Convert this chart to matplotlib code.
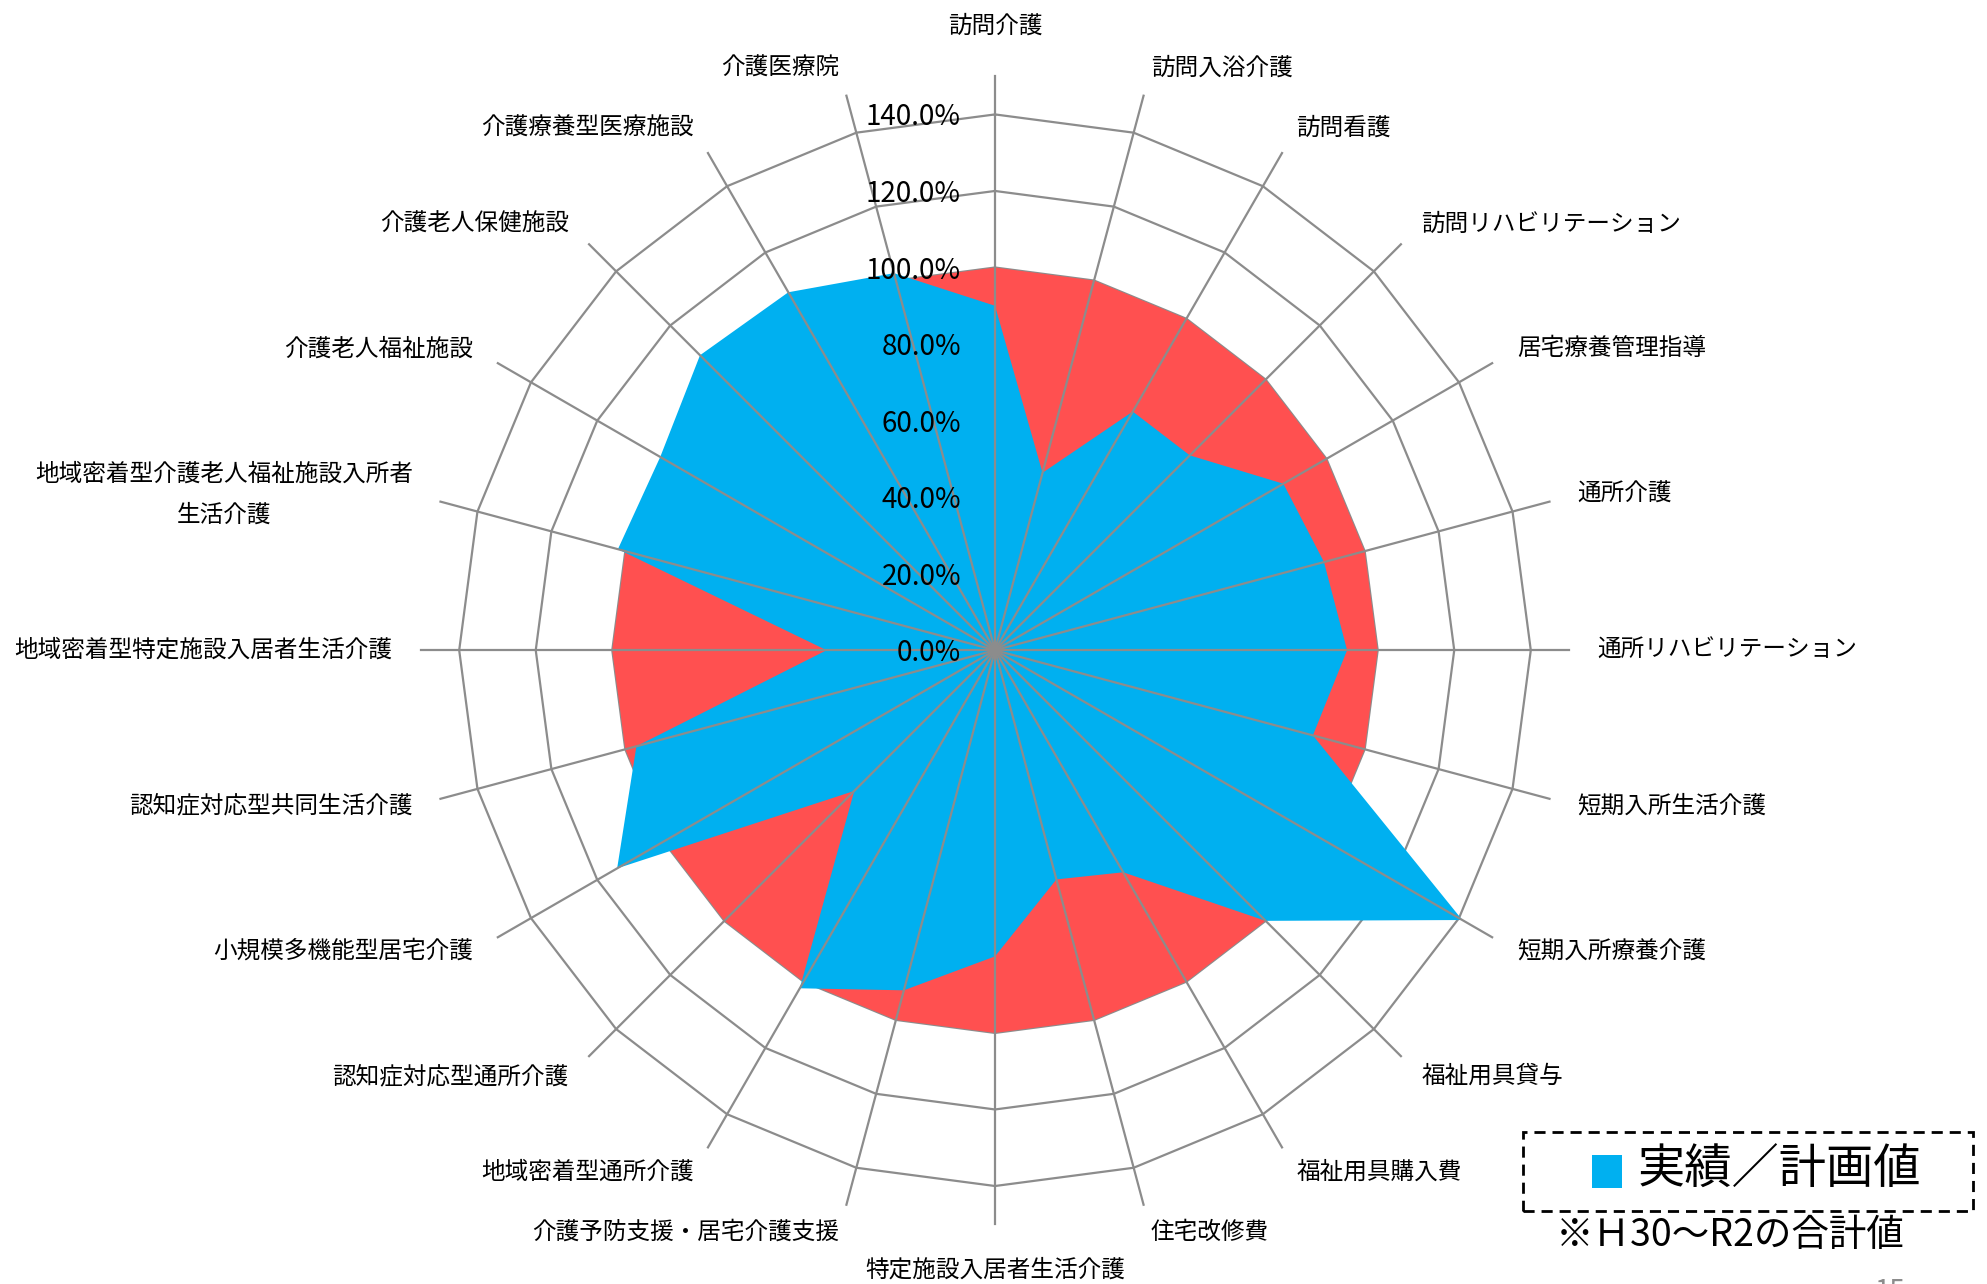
import numpy as np
import matplotlib.pyplot as plt
from matplotlib.patches import Rectangle
from matplotlib.transforms import offset_copy

plt.rcParams['font.family'] = ['Noto Sans CJK JP', 'DejaVu Sans']

# categories clockwise from the top
categories = ['訪問介護', '訪問入浴介護', '訪問看護', '訪問リハビリテーション', '居宅療養管理指導',
              '通所介護', '通所リハビリテーション', '短期入所生活介護', '短期入所療養介護',
              '福祉用具貸与', '福祉用具購入費', '住宅改修費', '特定施設入居者生活介護',
              '介護予防支援・居宅介護支援', '地域密着型通所介護', '認知症対応型通所介護',
              '小規模多機能型居宅介護', '認知症対応型共同生活介護', '地域密着型特定施設入居者生活介護',
              '地域密着型介護老人福祉施設入所者\n生活介護', '介護老人福祉施設', '介護老人保健施設',
              '介護療養型医療施設', '介護医療院']
actual = [0.90, 0.48, 0.72, 0.72, 0.87, 0.89, 0.92, 0.86, 1.41, 1.00, 0.67, 0.62,
          0.80, 0.92, 1.02, 0.52, 1.14, 0.97, 0.44, 1.02, 1.01, 1.09, 1.08, 1.02]
plan = [1.0] * len(categories)
r_ticks = [0.0, 0.2, 0.4, 0.6, 0.8, 1.0, 1.2, 1.4]

grid_col = '#8c8c8c'

fig = plt.figure(figsize=(19.87, 12.84), dpi=100)
ax = fig.add_axes([0.2311, 0.0763, 0.5393, 0.8346], projection='polar')
ax.set_theta_zero_location('N')
ax.set_theta_direction(-1)
ax.set_ylim(0, 1.4)
ax.set_axis_off()

n = len(categories)
theta = np.deg2rad(np.arange(n) * 360.0 / n)
th = np.append(theta, theta[0])

# rings (under the fills)
for v in r_ticks[1:]:
    ax.plot(th, [v] * (n + 1), color=grid_col, lw=1.6, zorder=1, clip_on=False)

red = ax.fill(th, plan + plan[:1], color='#FF5050', lw=0, zorder=2)
blue = ax.fill(th, actual + actual[:1], color='#00B0F0', lw=0, zorder=3)
for p in red + blue:
    p.set_clip_on(False)

# spokes (over the fills)
for t in theta:
    ax.plot([t, t], [0, 1.5], color=grid_col, lw=1.6, zorder=4, clip_on=False)

# radial tick labels
tick_tr = offset_copy(ax.transData, fig=fig, x=-34, y=-3, units='dots')
for v in r_ticks:
    ax.text(0, v, f'{v * 100:.1f}%', transform=tick_tr, ha='right', va='center',
            fontsize=20, color='black', zorder=6)

# category labels
for t, lab in zip(np.rad2deg(theta), categories):
    if t == 0:
        ax.text(np.deg2rad(t), 1.63, lab, ha='center', va='center', fontsize=17)
    elif t == 180:
        ax.text(np.deg2rad(t), 1.62, lab, ha='center', va='center', fontsize=17)
    elif t < 180:
        ax.text(np.deg2rad(t), 1.575, lab, ha='left', va='center', fontsize=17)
    else:
        ax.text(np.deg2rad(t), 1.575, lab, ha='right', va='center', fontsize=17,
                multialignment='center', linespacing=2.0)

# legend box
fig.add_artist(Rectangle((0.7665, 0.0569), 0.2265, 0.0615, transform=fig.transFigure,
                         fill=False, ec='black', lw=2, ls=(0, (4, 2.5))))
fig.add_artist(Rectangle((0.8012, 0.0748), 0.0151, 0.0257, transform=fig.transFigure,
                         fc='#00B0F0', ec='none'))
fig.text(0.8243, 0.0880, '実績／計画値', fontsize=34, ha='left', va='center')
fig.text(0.7831, 0.0374, '※Ｈ30～R2の合計値', fontsize=27, ha='left', va='center')
fig.text(0.951, -0.006, '15', fontsize=20, color='#8c8c8c', ha='center', va='center')

fig.savefig('out.png', dpi=100)
